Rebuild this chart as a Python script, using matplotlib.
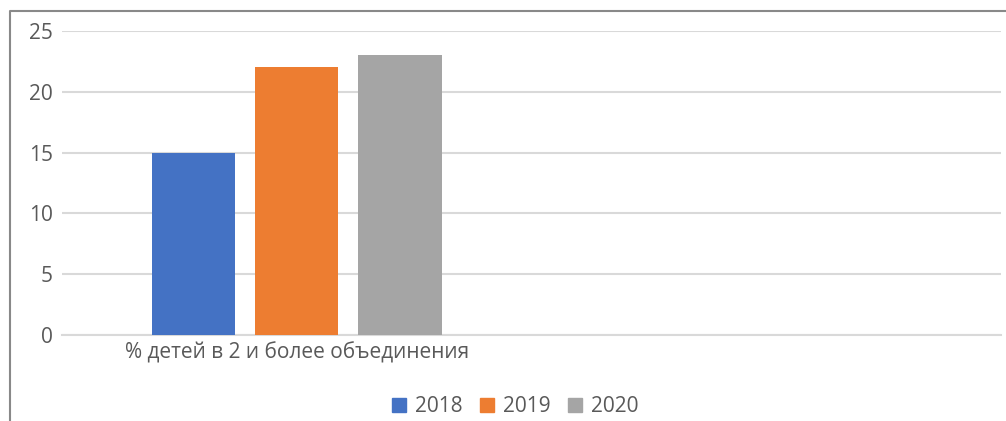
import matplotlib.pyplot as plt
from matplotlib.lines import Line2D
from matplotlib.patches import Patch
import numpy as np

# Data
categories = ['% детей в 2 и более объединения', '']
years = ['2018', '2019', '2020']
values = [[15, 0], [22, 0], [23, 0]]
colors = ['#4472c4', '#ed7d31', '#a5a5a5']

plt.rcParams['font.family'] = ['Open Sans', 'DejaVu Sans']
text_color = '#595959'

W, H = 1006, 421
fig = plt.figure(figsize=(W / 100, H / 100), dpi=100)
ax = fig.add_axes([62 / W, 1 - 335 / H, (1001 - 62) / W, (335 - 31) / H])

x = np.arange(len(categories))
bar_w = 0.177
step = 0.22
for i, (year, vals) in enumerate(zip(years, values)):
    shown = [v if v else np.nan for v in vals]
    ax.bar(x + (i - 1) * step, shown, width=bar_w, color=colors[i], zorder=3)

ax.set_xlim(-0.5, 1.5)
ax.set_ylim(0, 25)
ax.set_yticks(range(0, 26, 5))
ax.set_xticks(x)
ax.set_xticklabels(categories)
ax.grid(axis='y', color='#d9d9d9', linewidth=1.5, zorder=0)
for s in ['top', 'right', 'left']:
    ax.spines[s].set_visible(False)
ax.spines['bottom'].set_color('#d9d9d9')
ax.spines['bottom'].set_linewidth(1.5)
ax.tick_params(axis='both', length=0, labelsize=15, labelcolor=text_color)
ax.tick_params(axis='y', pad=6.5)
ax.tick_params(axis='x', pad=5)

handles = [Patch(color=c, label=y) for c, y in zip(colors, years)]
fig.legend(handles=handles, loc='center', bbox_to_anchor=(515 / W, 1 - 407 / H),
           ncol=3, frameon=False, fontsize=15, labelcolor=text_color,
           handlelength=0.68, handleheight=0.68, handletextpad=0.43,
           columnspacing=0.82, borderpad=0)

# outer chart border (only left and top visible in the crop)
fig.add_artist(Line2D([10 / W, 10 / W, 1.0], [0.0, 1 - 11 / H, 1 - 11 / H],
                      transform=fig.transFigure, color='#898989', linewidth=1.5))

fig.savefig('out.png', dpi=100)
